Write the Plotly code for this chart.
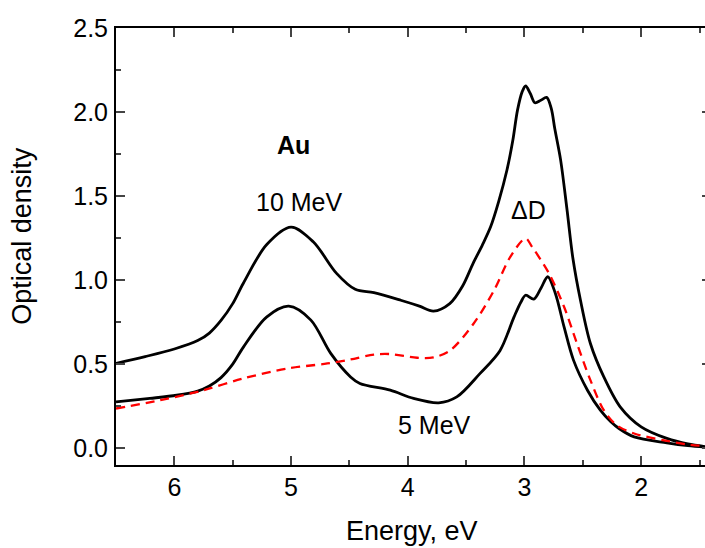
import plotly.graph_objects as go

# Optical density spectra of Au, irradiated at two energies, and their difference
energy_10 = [6.5, 6.25, 6.0, 5.8, 5.7, 5.6, 5.5, 5.41, 5.21, 5.0, 4.81, 4.61, 4.45, 4.29,
             4.06, 3.9, 3.78, 3.64, 3.53, 3.44, 3.36, 3.29, 3.22, 3.15, 3.1, 3.06,
             3.02, 2.99, 2.95, 2.91, 2.86, 2.81, 2.77, 2.74, 2.69, 2.635, 2.585, 2.52,
             2.435, 2.32, 2.18, 2.0, 1.78, 1.6, 1.4]
od_10 = [0.505, 0.545, 0.59, 0.64, 0.685, 0.76, 0.86, 0.98, 1.21, 1.315, 1.228, 1.04, 0.945, 0.925,
         0.88, 0.845, 0.815, 0.86, 0.965, 1.10, 1.21, 1.317, 1.47, 1.655, 1.83, 2.01,
         2.12, 2.155, 2.11, 2.055, 2.07, 2.087, 2.02, 1.9, 1.714, 1.417, 1.13, 0.88,
         0.623, 0.424, 0.246, 0.127, 0.058, 0.025, 0.005]

energy_5 = [6.5, 6.21, 5.98, 5.8, 5.7, 5.6, 5.5, 5.41, 5.21, 5.02, 4.83, 4.66, 4.49, 4.41,
            4.15, 3.95, 3.735, 3.58, 3.38, 3.21, 3.09, 3.03, 2.99, 2.92, 2.86, 2.8,
            2.735, 2.66, 2.58, 2.46, 2.35, 2.26, 2.19, 2.06, 1.78, 1.6, 1.4]
od_5 = [0.275, 0.296, 0.315, 0.34, 0.37, 0.42, 0.5, 0.6, 0.78, 0.845, 0.762, 0.564, 0.424, 0.385,
        0.345, 0.296, 0.27, 0.305, 0.445, 0.58, 0.78, 0.87, 0.91, 0.887, 0.95, 1.02,
        0.92, 0.72, 0.524, 0.345, 0.226, 0.157, 0.117, 0.067, 0.032, 0.015, 0.004]

energy_d = [6.5, 6.12, 5.75, 5.41, 5.03, 4.69, 4.49, 4.29, 4.15, 3.92, 3.78, 3.635,
            3.435, 3.26, 3.12, 2.99, 2.935, 2.79, 2.66, 2.55, 2.435, 2.32, 2.21, 2.06,
            1.78, 1.6, 1.4]
od_d = [0.236, 0.286, 0.345, 0.415, 0.474, 0.504, 0.528, 0.557, 0.56, 0.538, 0.54, 0.583,
        0.742, 0.94, 1.14, 1.248, 1.198, 1.04, 0.84, 0.623, 0.405, 0.226, 0.137, 0.0875,
        0.0435, 0.022, 0.01]

x_ticks = [6, 5, 4, 3, 2]
y_ticks = [0.0, 0.5, 1.0, 1.5, 2.0, 2.5]

FONT = "Arial, Liberation Sans, sans-serif"

fig = go.Figure()
fig.add_trace(go.Scatter(x=energy_10, y=od_10, mode="lines", line_shape="spline",
                         line=dict(color="black", width=2.8, smoothing=0.9),
                         name="10 MeV"))
fig.add_trace(go.Scatter(x=energy_5, y=od_5, mode="lines", line_shape="spline",
                         line=dict(color="black", width=2.8, smoothing=0.9),
                         name="5 MeV"))
fig.add_trace(go.Scatter(x=energy_d, y=od_d, mode="lines", line_shape="spline",
                         line=dict(color="#ff0000", width=2.3, dash="9px,6px", smoothing=0.9),
                         name="ΔD"))
# invisible trace carrying the right-hand tick stubs
fig.add_trace(go.Scatter(x=[energy_d[0]], y=[od_d[0]], yaxis="y2", mode="lines",
                         line=dict(width=0), hoverinfo="skip", showlegend=False))

fig.update_layout(
    width=705, height=548,
    margin=dict(l=116, r=0, t=28, b=83),
    paper_bgcolor="white", plot_bgcolor="white",
    showlegend=False,
    font=dict(family=FONT, size=25, color="black"),
    xaxis=dict(range=[6.5, 1.453], tickvals=x_ticks, ticks="inside", ticklen=9,
               tickwidth=2, showline=True, linewidth=2, linecolor="black",
               mirror="ticks", showgrid=False, zeroline=False,
               minor=dict(dtick=0.5, tick0=0, ticks="inside", ticklen=5, tickwidth=2,
                          showgrid=False),
               tickfont=dict(size=25), ticklabelstandoff=-1),
    yaxis=dict(range=[-0.1, 2.5], tickvals=y_ticks, tickformat=".1f", ticks="inside",
               ticklen=9, tickwidth=2, showline=True, linewidth=2, linecolor="black",
               showgrid=False, zeroline=False,
               minor=dict(dtick=0.25, tick0=0, ticks="inside", ticklen=5, tickwidth=2,
                          showgrid=False),
               tickfont=dict(size=25), ticklabelstandoff=1),
    yaxis2=dict(range=[-0.1, 2.5], tickvals=y_ticks, overlaying="y", side="right",
                ticks="inside", ticklen=3, tickwidth=2, showline=False,
                showticklabels=False, showgrid=False, zeroline=False),
)

# axis titles
fig.add_annotation(text="Energy, eV", xref="paper", yref="paper", x=0.5025, y=-0.152,
                   xanchor="center", yanchor="middle", showarrow=False,
                   font=dict(size=27))
fig.add_annotation(text="Optical density", xref="paper", yref="paper", x=-0.16, y=0.524,
                   xanchor="center", yanchor="middle", textangle=-90, showarrow=False,
                   font=dict(size=27))

# curve labels
fig.add_annotation(text="<b>Au</b>", x=4.978, y=1.806, showarrow=False, font=dict(size=25))
fig.add_annotation(text="10 MeV", x=4.933, y=1.464, showarrow=False, font=dict(size=25))
fig.add_annotation(text="ΔD", x=2.964, y=1.417, showarrow=False, font=dict(size=25))
fig.add_annotation(text="5 MeV", x=3.77, y=0.137, showarrow=False, font=dict(size=25))

fig.write_html("out.html")
